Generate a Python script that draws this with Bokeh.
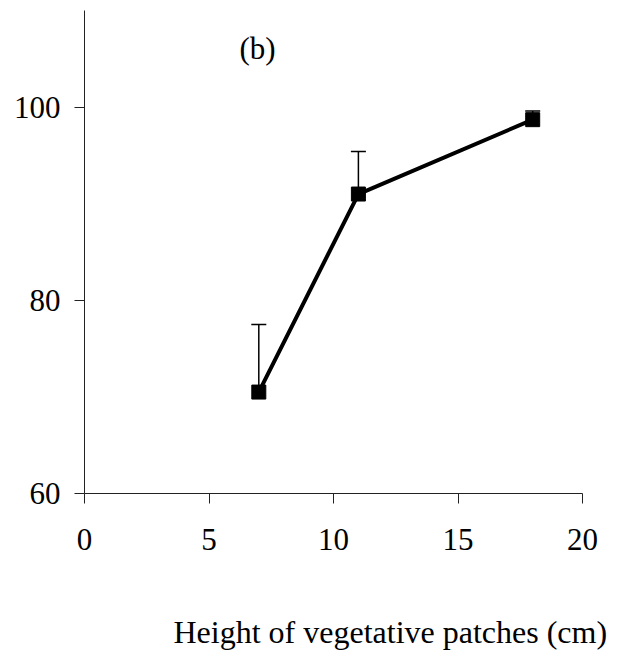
from bokeh.plotting import figure
from bokeh.models import Range1d, FixedTicker, Whisker, TeeHead, ColumnDataSource, Label, Title
from bokeh.embed import file_html
from bokeh.resources import INLINE

# Data
heights = [7, 11, 18]                 # Height of vegetative patches (cm)
values = [70.5, 91.0, 98.7]           # mean values
errors = [7.0, 4.4, 0.9]              # upper error (SE)
x_ticks = [0, 5, 10, 15, 20]
y_ticks = [60, 80, 100]
panel_label = "(b)"
x_title = "Height of vegetative patches (cm)"

FONT = "Liberation Serif"

upper = [v + e for v, e in zip(values, errors)]
src = ColumnDataSource(data=dict(x=heights, y=values, upper=upper))

p = figure(width=618, height=651, frame_width=498, frame_height=483,
           min_border_left=84, min_border_right=36, min_border_top=10, min_border_bottom=158,
           x_range=Range1d(0, 20), y_range=Range1d(60, 110),
           output_backend="svg", toolbar_location=None)

p.outline_line_color = None
p.xgrid.grid_line_color = None
p.ygrid.grid_line_color = None
p.background_fill_color = "white"
p.border_fill_color = "white"

for ax in (p.xaxis[0], p.yaxis[0]):
    ax.axis_line_color = "#222222"
    ax.axis_line_width = 1
    ax.major_tick_line_color = "#222222"
    ax.major_tick_out = 10
    ax.major_tick_in = 0
    ax.minor_tick_line_color = None
    ax.major_label_text_font = FONT
    ax.major_label_text_font_size = "31px"
    ax.major_label_text_color = "black"

p.xaxis[0].ticker = FixedTicker(ticks=x_ticks)
p.yaxis[0].ticker = FixedTicker(ticks=y_ticks)
p.xaxis[0].major_label_standoff = 25
p.yaxis[0].major_label_standoff = 14

whisk = Whisker(source=src, base="x", upper="upper", lower="y", dimension="height",
                line_color="black", line_width=1.5,
                upper_head=TeeHead(size=15, line_color="black", line_width=1.5),
                lower_head=None)
p.add_layout(whisk)

p.line("x", "y", source=src, line_color="black", line_width=4)
p.scatter("x", "y", source=src, marker="square", size=14, color="black")

p.add_layout(Label(x=6.95, y=106.1, text=panel_label, text_font=FONT,
                   text_font_size="31px", text_align="center", text_baseline="middle",
                   text_color="black"))

p.add_layout(Title(text=x_title, align="left", offset=89, standoff=118,
                   text_font=FONT, text_font_size="32px", text_font_style="normal",
                   text_color="black"), "below")

open("out.html", "w").write(file_html(p, INLINE))
